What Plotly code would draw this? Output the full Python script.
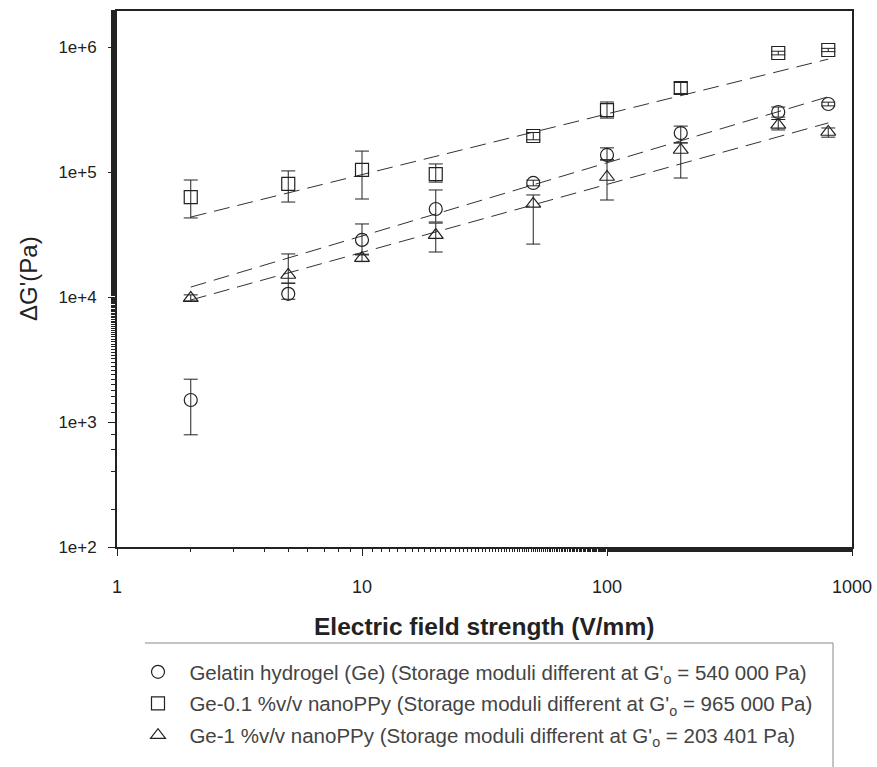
import plotly.graph_objects as go

# ---------------- data ----------------
field = [2, 5, 10, 20, 50, 100, 200, 500, 800]

ge_val = [1500, 10600, 28600, 50600, 81700, 137000, 205000, 302000, 350000]
ge_hi = [2200, 12900, 38400, 71800, 86000, 156000, 233000, 331000, 362000]
ge_lo = [790, 9600, 21700, 39800, 77500, 125000, 171000, 275000, 338000]

ppy01_val = [63000, 80300, 104000, 96000, 194000, 313000, 470000, 895000, 946000]
ppy01_hi = [86300, 102000, 147000, 116000, 207000, 363000, 520000, 925000, 975000]
ppy01_lo = [42900, 57500, 60800, 83000, 181000, 270000, 425000, 865000, 918000]

ppy1_val = [9800, 15000, 20500, 31300, 55500, 91200, 150000, 238000, 209000]
ppy1_hi = [10400, 22100, 22000, 39000, 65500, 125000, 171000, 263000, 225000]
ppy1_lo = [9300, 12900, 19200, 22900, 26500, 59700, 89500, 217000, 190000]

fit_x = [2, 800]
fit_ge = [12000, 400000]
fit_ppy01 = [43600, 800000]
fit_ppy1 = [9460, 247000]

names = [
    "Gelatin hydrogel (Ge) (Storage moduli different at G'<sub>o</sub> = 540 000 Pa)",
    "Ge-0.1 %v/v nanoPPy (Storage moduli different at G'<sub>o</sub> = 965 000 Pa)",
    "Ge-1 %v/v nanoPPy (Storage moduli different at G'<sub>o</sub> = 203 401 Pa)",
]
symbols = ["circle-open", "square-open", "triangle-up-open"]
x_ticks = [1, 10, 100, 1000]
x_ticktext = ["1", "10", "100", "1000"]
y_ticks = [1e2, 1e3, 1e4, 1e5, 1e6]
y_ticktext = ["1e+2", "1e+3", "1e+4", "1e+5", "1e+6"]

INK = "#222222"
FONT = "Liberation Sans, Arial, sans-serif"
NB = "\u00a0\u00a0"

fig = go.Figure()

# fitted dashed lines
for fy in (fit_ge, fit_ppy01, fit_ppy1):
    fig.add_trace(go.Scatter(
        x=fit_x, y=fy, mode="lines", showlegend=False, hoverinfo="skip",
        line=dict(color="#333333", width=1, dash="16px,8px"),
    ))

series = [
    (ge_val, ge_hi, ge_lo),
    (ppy01_val, ppy01_hi, ppy01_lo),
    (ppy1_val, ppy1_hi, ppy1_lo),
]
for i, (v, hi, lo) in enumerate(series):
    fig.add_trace(go.Scatter(
        x=field, y=v, mode="markers", name=NB + names[i], legendgroup=f"g{i}",
        marker=dict(symbol=symbols[i], size=13, color=INK, line=dict(width=1.2, color=INK)),
        error_y=dict(type="data", symmetric=False,
                     array=[h - a for h, a in zip(hi, v)],
                     arrayminus=[a - l for a, l in zip(v, lo)],
                     color=INK, thickness=1, width=7),
    ))

W, H = 877, 767
L, T, R, B = 117, 11, 852, 547          # plot area in page pixels
pw, ph = R - L, B - T


def px_x(x):
    return (x - L) / pw


def px_y(y):
    return (B - y) / ph


fig.update_layout(
    template="none",
    width=W, height=H, autosize=False,
    margin=dict(l=L, r=W - R, t=T, b=H - B, pad=0, autoexpand=False),
    paper_bgcolor="white", plot_bgcolor="white",
    font=dict(family=FONT, color=INK),
    showlegend=True,
    legend=dict(
        x=px_x(138), y=px_y(652), xanchor="left", yanchor="top",
        font=dict(size=20.5, color="#444444", family=FONT),
        bgcolor="rgba(0,0,0,0)", borderwidth=0,
        tracegroupgap=2, traceorder="grouped",
    ),
    xaxis=dict(
        type="log", range=[0, 3], automargin=False,
        showline=True, linecolor=INK, linewidth=1.8, mirror=True,
        showgrid=False, zeroline=False,
        ticks="outside", ticklen=7, tickwidth=1.2, tickcolor=INK,
        tickvals=x_ticks, ticktext=x_ticktext,
        tickfont=dict(size=18, color=INK),
        minor=dict(ticks="outside", ticklen=3, tickcolor=INK, showgrid=False),
        ticklabelstandoff=15,
    ),
    yaxis=dict(
        type="log", range=[2, 6.288], automargin=False,
        showline=True, linecolor=INK, linewidth=1.8, mirror=True,
        showgrid=False, zeroline=False,
        ticks="outside", ticklen=7, tickwidth=1.2, tickcolor=INK,
        tickvals=y_ticks, ticktext=y_ticktext,
        tickfont=dict(size=17, color=INK),
        minor=dict(ticks="outside", ticklen=4, tickcolor=INK, showgrid=False),
        ticklabelstandoff=8,
    ),
    annotations=[
        dict(text="Electric field strength (V/mm)", xref="paper", yref="paper",
             x=px_x(484), y=px_y(626), xanchor="center", yanchor="middle",
             showarrow=False, font=dict(size=24.5, color=INK, family=FONT, weight="bold")),
        dict(text="ΔG'(Pa)", xref="paper", yref="paper",
             x=px_x(28), y=px_y(279), xanchor="center", yanchor="middle",
             textangle=-90, showarrow=False, font=dict(size=24, color=INK, family=FONT)),
    ],
    shapes=[
        dict(type="line", xref="paper", yref="paper",
             x0=px_x(145), x1=px_x(833), y0=px_y(643), y1=px_y(643),
             line=dict(color="#8a8a8a", width=1)),
        dict(type="line", xref="paper", yref="paper",
             x0=px_x(833), x1=px_x(833), y0=px_y(643), y1=px_y(767),
             line=dict(color="#8a8a8a", width=1)),
    ],
)

# remove the browser's default 8px page margin so the figure fills the window
fig.write_html(
    "out.html",
    config={"displayModeBar": False, "responsive": False},
    post_script="document.body.style.margin='0';",
)
